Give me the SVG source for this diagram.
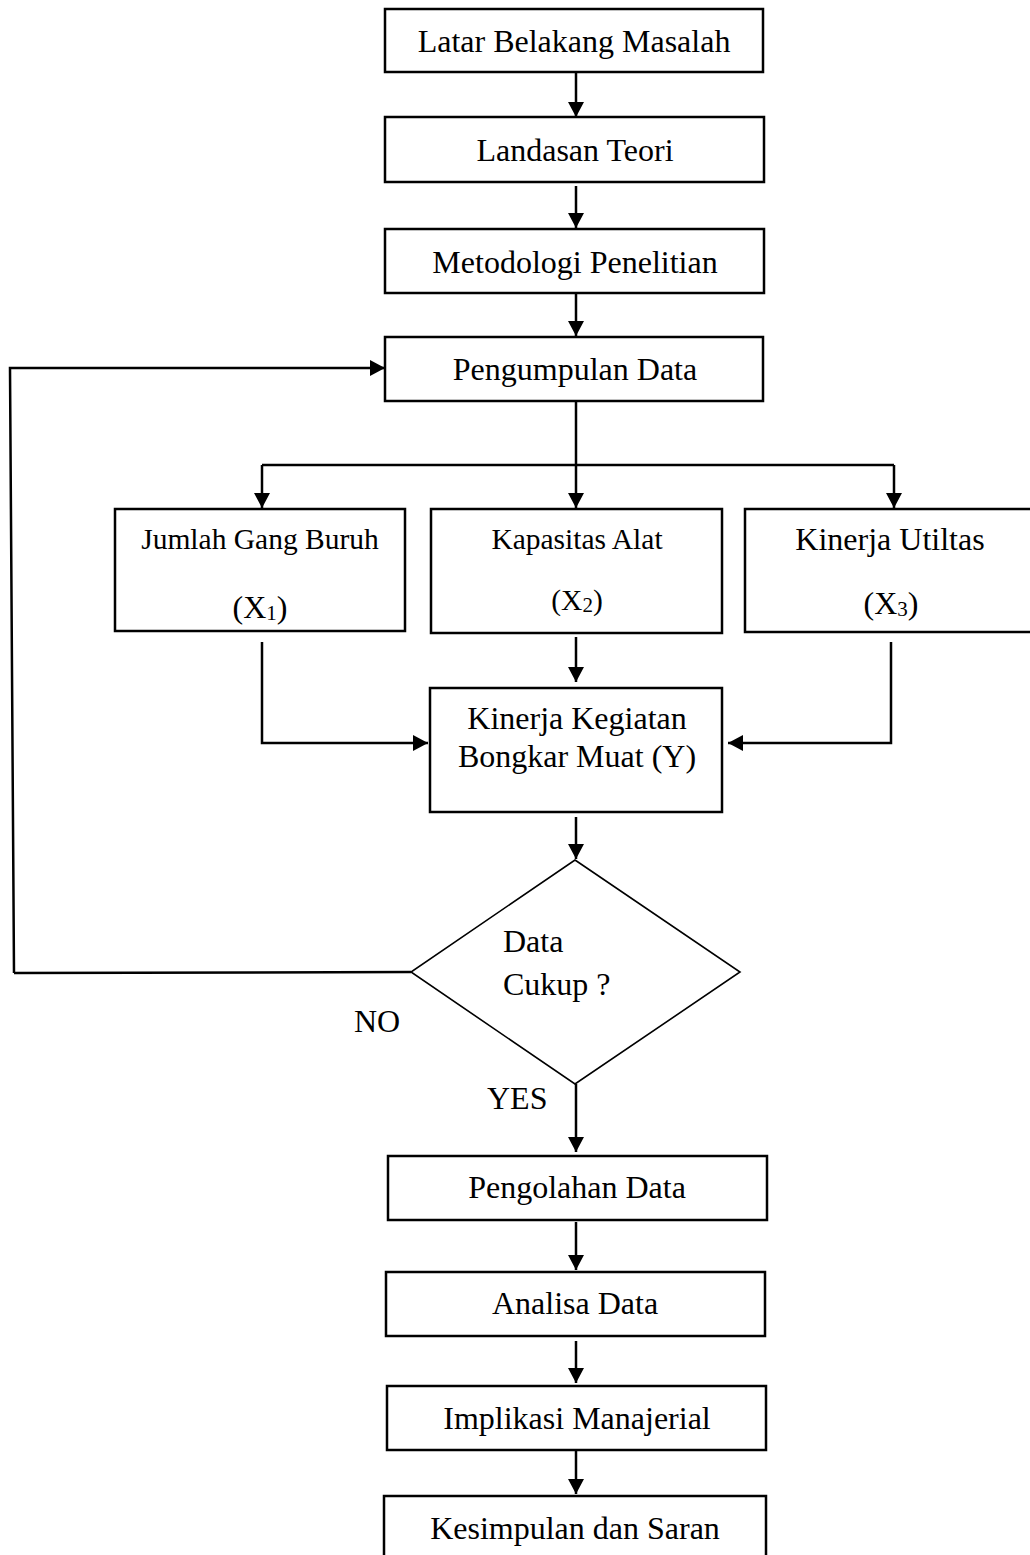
<svg xmlns="http://www.w3.org/2000/svg" width="1030" height="1555" viewBox="0 0 1030 1555">
<style>
.box{fill:#fff;stroke:#000;stroke-width:2.5}
.dia{fill:#fff;stroke:#000;stroke-width:1.6}
.t{font-family:"Liberation Serif","Times New Roman",serif;font-size:32px;fill:#000}
.s{font-size:29.5px}
.c{text-anchor:middle}
.ln{fill:none;stroke:#000;stroke-width:2.5}
.ar{fill:none;stroke:#000;stroke-width:2.5;marker-end:url(#ah)}
.sub{font-size:21px}
</style>
<defs>
<marker id="ah" viewBox="0 0 15 16" refX="15" refY="8" markerWidth="15" markerHeight="16" markerUnits="userSpaceOnUse" orient="auto">
<path d="M0,0 L15,8 L0,16 z" fill="#000"/>
</marker>
</defs>
<rect width="1030" height="1555" fill="#fff"/>
<g id="connectors">
<line class="ar" x1="576" y1="72" x2="576" y2="117"/>
<line class="ar" x1="576" y1="186" x2="576" y2="228"/>
<line class="ar" x1="576" y1="293" x2="576" y2="336"/>
<polyline class="ar" points="14,973 10,368 385,368"/>
<line class="ln" x1="576" y1="401" x2="576" y2="465"/>
<line class="ln" x1="262" y1="465" x2="894" y2="465"/>
<line class="ar" x1="262" y1="465" x2="262" y2="508"/>
<line class="ar" x1="576" y1="465" x2="576" y2="508"/>
<line class="ar" x1="894" y1="465" x2="894" y2="508"/>
<line class="ar" x1="576" y1="637" x2="576" y2="682"/>
<polyline class="ar" points="262,642 262,743 428,743"/>
<polyline class="ar" points="891,642 891,743 728,743"/>
<line class="ar" x1="576" y1="817" x2="576" y2="859"/>
<line class="ln" x1="411" y1="972" x2="14" y2="973"/>
<line class="ar" x1="576" y1="1084" x2="576" y2="1152"/>
<line class="ar" x1="576" y1="1222" x2="576" y2="1270"/>
<line class="ar" x1="576" y1="1341" x2="576" y2="1383"/>
<line class="ar" x1="576" y1="1451" x2="576" y2="1494"/>
</g>
<g id="n1"><rect class="box" x="385" y="9" width="378" height="63"/><text class="t c" x="574" y="52">Latar Belakang Masalah</text></g>
<g id="n2"><rect class="box" x="385" y="117" width="379" height="65"/><text class="t c" x="575" y="161">Landasan Teori</text></g>
<g id="n3"><rect class="box" x="385" y="229" width="379" height="64"/><text class="t c" x="575" y="273">Metodologi Penelitian</text></g>
<g id="n4"><rect class="box" x="385" y="337" width="378" height="64"/><text class="t c" x="575" y="380">Pengumpulan Data</text></g>
<g id="n5"><rect class="box" x="115" y="509" width="290" height="122"/><text class="t s c" x="260" y="549">Jumlah Gang Buruh</text><text class="t c" x="260" y="618">(X<tspan class="sub" dy="2">1</tspan><tspan dy="-2">)</tspan></text></g>
<g id="n6"><rect class="box" x="431" y="509" width="291" height="124"/><text class="t s c" x="577" y="549">Kapasitas Alat</text><text class="t s c" x="577" y="610">(X<tspan class="sub" dy="2">2</tspan><tspan dy="-2">)</tspan></text></g>
<g id="n7"><rect class="box" x="745" y="509" width="300" height="123"/><text class="t c" x="890" y="550">Kinerja Utiltas</text><text class="t c" x="891" y="614">(X<tspan class="sub" dy="2">3</tspan><tspan dy="-2">)</tspan></text></g>
<g id="n8"><rect class="box" x="430" y="688" width="292" height="124"/><text class="t c" x="577" y="729">Kinerja Kegiatan</text><text class="t c" x="577" y="767">Bongkar Muat (Y)</text></g>
<g id="n9"><polygon class="dia" points="575,860 740,972 575,1084 411,972"/><text class="t" x="503" y="952">Data</text><text class="t" x="503" y="995">Cukup ?</text></g>
<text class="t" x="354" y="1032">NO</text>
<text class="t" x="487" y="1109">YES</text>
<g id="n10"><rect class="box" x="388" y="1156" width="379" height="64"/><text class="t c" x="577" y="1198">Pengolahan Data</text></g>
<g id="n11"><rect class="box" x="386" y="1272" width="379" height="64"/><text class="t c" x="575" y="1314">Analisa Data</text></g>
<g id="n12"><rect class="box" x="387" y="1386" width="379" height="64"/><text class="t c" x="577" y="1429">Implikasi Manajerial</text></g>
<g id="n13"><rect class="box" x="384" y="1496" width="382" height="80"/><text class="t c" x="575" y="1539">Kesimpulan dan Saran</text></g>
</svg>
